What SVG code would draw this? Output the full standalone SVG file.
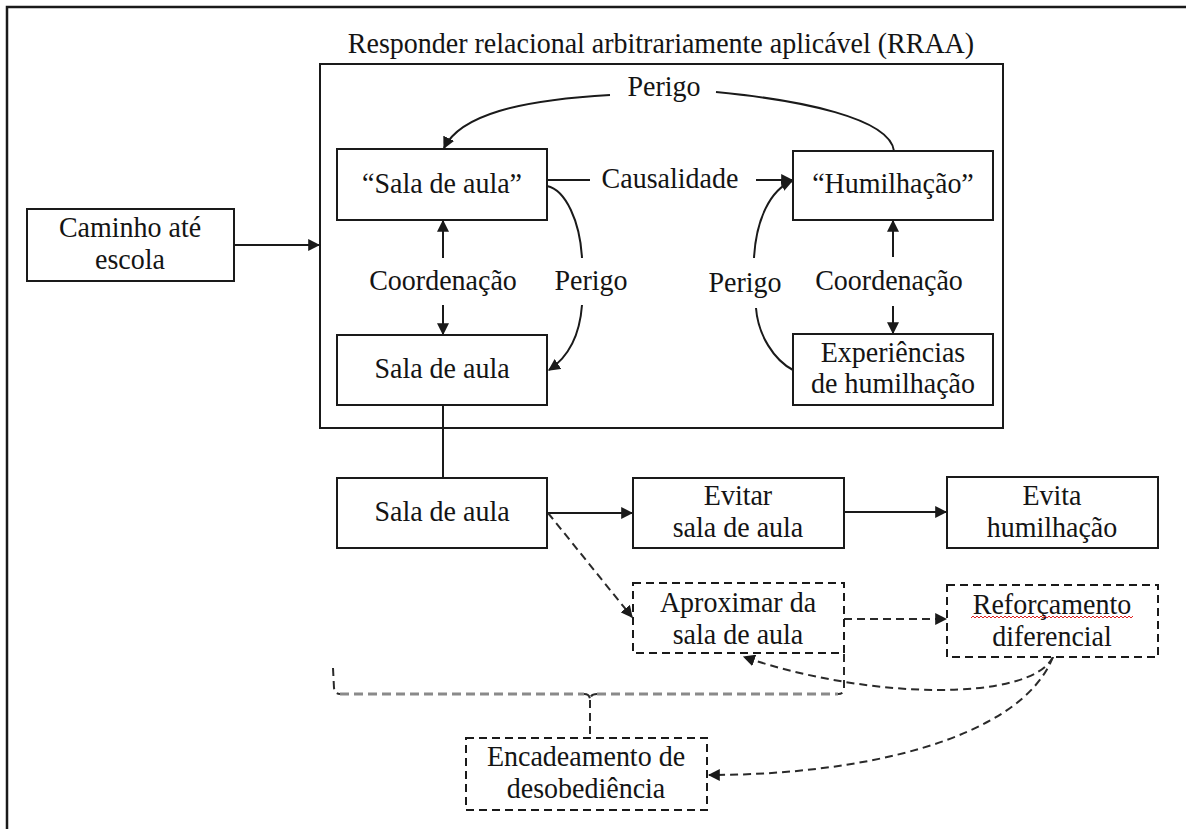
<svg xmlns="http://www.w3.org/2000/svg" width="1186" height="829" viewBox="0 0 1186 829">
  <style>
    .t { font-family: "Liberation Serif", "Times New Roman", serif; font-size: 28px; fill: #141414; text-anchor: middle;
         transform-box: fill-box; transform-origin: 50% 80.5%; transform: scaleY(1.08); }
    .box { fill: #ffffff; stroke: #1a1a1a; stroke-width: 2; }
    .dbox { fill: #ffffff; stroke: #1a1a1a; stroke-width: 2; stroke-dasharray: 8 5; }
    .ln { fill: none; stroke: #1a1a1a; stroke-width: 2; }
    .dl { fill: none; stroke: #2a2a2a; stroke-width: 2; stroke-dasharray: 8 5; }
    .brace { fill: none; stroke: #8a8a8a; stroke-width: 3; stroke-dasharray: 9 5; }
  </style>
  <defs>
    <marker id="arrow" viewBox="0 0 10 10" refX="9" refY="5" markerWidth="6" markerHeight="6" markerUnits="strokeWidth" orient="auto">
      <path d="M0,0 L10,5 L0,10 z" fill="#1a1a1a"/>
    </marker>
  </defs>

  <rect width="1186" height="829" fill="#ffffff"/>

  <!-- page frame -->
  <path d="M7,829 L7,7 L1186,7" fill="none" stroke="#1a1a1a" stroke-width="2.5"/>

  <!-- RRAA frame with its title -->
  <g id="rraa">
    <text class="t" x="661" y="53">Responder relacional arbitrariamente aplicável (RRAA)</text>
    <rect x="320" y="64" width="683" height="364" fill="none" stroke="#1a1a1a" stroke-width="2"/>
  </g>

  <g id="connectors">
    <!-- solid arrows -->
    <line class="ln" x1="234" y1="245" x2="319" y2="245" marker-end="url(#arrow)"/>
    <line class="ln" x1="547" y1="180" x2="590" y2="180"/>
    <line class="ln" x1="756" y1="180" x2="792" y2="180" marker-end="url(#arrow)"/>
    <line class="ln" x1="443" y1="258" x2="443" y2="221" marker-end="url(#arrow)"/>
    <line class="ln" x1="443" y1="305" x2="443" y2="334" marker-end="url(#arrow)"/>
    <line class="ln" x1="893" y1="257" x2="893" y2="221" marker-end="url(#arrow)"/>
    <line class="ln" x1="893" y1="306" x2="893" y2="333" marker-end="url(#arrow)"/>
    <path class="ln" d="M610,95 C520,100 460,115 444,148" marker-end="url(#arrow)"/>
    <path class="ln" d="M716,92 C800,100 890,118 894,151"/>
    <path class="ln" d="M547,186 C566,190 580,222 582,258"/>
    <path class="ln" d="M582,305 C580,332 570,356 549,370" marker-end="url(#arrow)"/>
    <path class="ln" d="M793,370 C774,360 758,335 756,308"/>
    <path class="ln" d="M754,258 C756,220 770,190 792,181" marker-end="url(#arrow)"/>
    <line class="ln" x1="443" y1="405" x2="443" y2="478"/>
    <line class="ln" x1="547" y1="513" x2="632" y2="513" marker-end="url(#arrow)"/>
    <line class="ln" x1="844" y1="512" x2="946" y2="512" marker-end="url(#arrow)"/>

    <!-- dashed arrows -->
    <line class="dl" x1="548" y1="513" x2="632" y2="617" marker-end="url(#arrow)"/>
    <line class="dl" x1="844" y1="619" x2="946" y2="619" marker-end="url(#arrow)"/>
    <path class="dl" d="M1053,657 C1030,702 870,700 744,657" marker-end="url(#arrow)"/>
    <path class="dl" d="M1053,657 C1020,740 860,775 709,775" marker-end="url(#arrow)"/>

    <!-- brace grouping the approach chain -->
    <path class="brace" d="M340,694 L584,694 M597,694 L838,694"/>
    <path class="dl" d="M333,668 L334,688 Q335,694 340,694"/>
    <path class="dl" d="M844,654 L844,688 Q844,694 838,694"/>
    <path class="dl" d="M584,694 Q590,694 590,700 Q590,694 597,694 M590,700 L590,738"/>
  </g>

  <g id="caminho">
    <rect class="box" x="27" y="209" width="207" height="72"/>
    <text class="t" x="130" y="237">Caminho até</text>
    <text class="t" x="130" y="269">escola</text>
  </g>

  <g id="sala-aspas">
    <rect class="box" x="337" y="149" width="210" height="71"/>
    <text class="t" x="442" y="193">“Sala de aula”</text>
  </g>

  <g id="humilhacao-aspas">
    <rect class="box" x="793" y="151" width="200" height="69"/>
    <text class="t" x="893" y="193">“Humilhação”</text>
  </g>

  <g id="sala-interna">
    <rect class="box" x="337" y="335" width="210" height="70"/>
    <text class="t" x="442" y="378">Sala de aula</text>
  </g>

  <g id="experiencias">
    <rect class="box" x="793" y="334" width="200" height="71"/>
    <text class="t" x="893" y="362">Experiências</text>
    <text class="t" x="893" y="393">de humilhação</text>
  </g>

  <!-- relation labels -->
  <g id="labels">
    <text class="t" x="664" y="96">Perigo</text>
    <text class="t" x="670" y="188">Causalidade</text>
    <text class="t" x="443" y="290">Coordenação</text>
    <text class="t" x="591" y="290">Perigo</text>
    <text class="t" x="745" y="292">Perigo</text>
    <text class="t" x="889" y="290">Coordenação</text>
  </g>

  <g id="sala">
    <rect class="box" x="337" y="478" width="210" height="70"/>
    <text class="t" x="442" y="521">Sala de aula</text>
  </g>

  <g id="evitar">
    <rect class="box" x="633" y="478" width="211" height="70"/>
    <text class="t" x="738" y="505">Evitar</text>
    <text class="t" x="738" y="537">sala de aula</text>
  </g>

  <g id="evita-humilhacao">
    <rect class="box" x="947" y="477" width="211" height="71"/>
    <text class="t" x="1052" y="505">Evita</text>
    <text class="t" x="1052" y="537">humilhação</text>
  </g>

  <g id="aproximar">
    <rect class="dbox" x="633" y="583" width="211" height="70"/>
    <text class="t" x="738" y="612">Aproximar da</text>
    <text class="t" x="738" y="644">sala de aula</text>
  </g>

  <g id="reforcamento">
    <rect class="dbox" x="947" y="585" width="211" height="72"/>
    <text class="t" x="1052" y="614">Reforçamento</text>
    <polyline points="971,618 973,616 975,618 977,616 979,618 981,616 983,618 985,616 987,618 989,616 991,618 993,616 995,618 997,616 999,618 1001,616 1003,618 1005,616 1007,618 1009,616 1011,618 1013,616 1015,618 1017,616 1019,618 1021,616 1023,618 1025,616 1027,618 1029,616 1031,618 1033,616 1035,618 1037,616 1039,618 1041,616 1043,618 1045,616 1047,618 1049,616 1051,618 1053,616 1055,618 1057,616 1059,618 1061,616 1063,618 1065,616 1067,618 1069,616 1071,618 1073,616 1075,618 1077,616 1079,618 1081,616 1083,618 1085,616 1087,618 1089,616 1091,618 1093,616 1095,618 1097,616 1099,618 1101,616 1103,618 1105,616 1107,618 1109,616 1111,618 1113,616 1115,618 1117,616 1119,618 1121,616 1123,618 1125,616 1127,618 1129,616 1131,618 1133,616" fill="none" stroke="#e02020" stroke-width="1"/>
    <text class="t" x="1052" y="646">diferencial</text>
  </g>

  <g id="encadeamento">
    <rect class="dbox" x="466" y="738" width="241" height="72"/>
    <text class="t" x="586" y="766">Encadeamento de</text>
    <text class="t" x="586" y="798">desobediência</text>
  </g>
</svg>
